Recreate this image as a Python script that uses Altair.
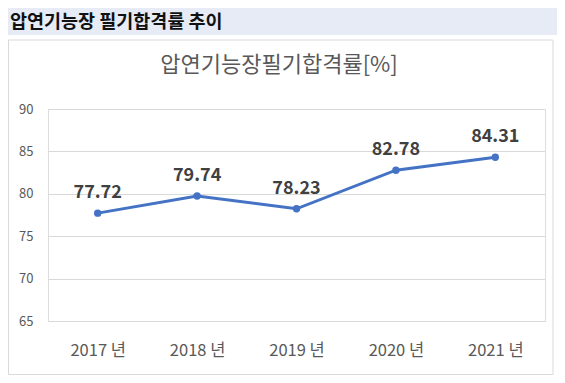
import altair as alt
import pandas as pd

years = ["2017 년", "2018 년", "2019 년", "2020 년", "2021 년"]
rates = [77.72, 79.74, 78.23, 82.78, 84.31]
y_ticks = [65, 70, 75, 80, 85, 90]
header_text = "압연기능장 필기합격률 추이"
chart_title = "압연기능장필기합격률[%]"

FONT = "Noto Sans CJK KR"
df = pd.DataFrame({"year": years, "rate": rates})
one = pd.DataFrame({"a": [0]})

W, H = 497, 212
PL, PT, PR, PB = 40, 101, 12, 54

header_band = alt.Chart(one).mark_rect(color="#e6ebf6").encode(
    x=alt.value(-PL), x2=alt.value(W + PR), y=alt.value(-PT), y2=alt.value(-PT + 27)
)
header = alt.Chart(one).mark_text(
    text=header_text, font=FONT, fontSize=18.5, fontWeight="bold", color="#111111",
    align="left", baseline="middle"
).encode(x=alt.value(-PL + 2), y=alt.value(-PT + 14))

box = alt.Chart(one).mark_rect(filled=False, stroke="#d9d9d9", strokeWidth=1).encode(
    x=alt.value(-PL + 0.5), x2=alt.value(505), y=alt.value(-69), y2=alt.value(265.5)
)
title = alt.Chart(one).mark_text(
    text=chart_title, font=FONT, fontSize=22, color="#595959",
    align="center", baseline="middle"
).encode(x=alt.value(231), y=alt.value(-44))

xenc = alt.X("year:N", sort=years, title=None,
             scale=alt.Scale(paddingInner=0, paddingOuter=0),
             axis=alt.Axis(labelAngle=0, domain=False, ticks=False, tickSize=0,
                           labelPadding=21, labelFontSize=16.5, labelColor="#595959",
                           labelFont=FONT, grid=False))
yenc = alt.Y("rate:Q", title=None, scale=alt.Scale(domain=[65, 90], nice=False, zero=False),
             axis=alt.Axis(values=y_ticks, domain=False, ticks=False, tickSize=0,
                           labelPadding=15, labelFontSize=13, labelColor="#595959",
                           labelFont=FONT, gridColor="#d9d9d9", gridWidth=1))

base = alt.Chart(df).encode(x=xenc, y=yenc)
line = base.mark_line(color="#4472C4", strokeWidth=3)
pts = base.mark_point(filled=True, color="#4472C4", size=55, opacity=1)
labels = base.mark_text(font=FONT, fontSize=18, fontWeight="bold", color="#404040",
                        dy=-20, baseline="middle").encode(text=alt.Text("rate:Q", format=".2f"))

chart = alt.layer(header_band, header, box, title, line, pts, labels).properties(
    width=W, height=H,
    autosize=alt.AutoSizeParams(type="none"),
    padding={"left": PL, "top": PT, "right": PR, "bottom": PB},
).configure_view(stroke=None).configure(background="white")

chart.save("out.html", embed_options={"renderer": "svg", "actions": False})
